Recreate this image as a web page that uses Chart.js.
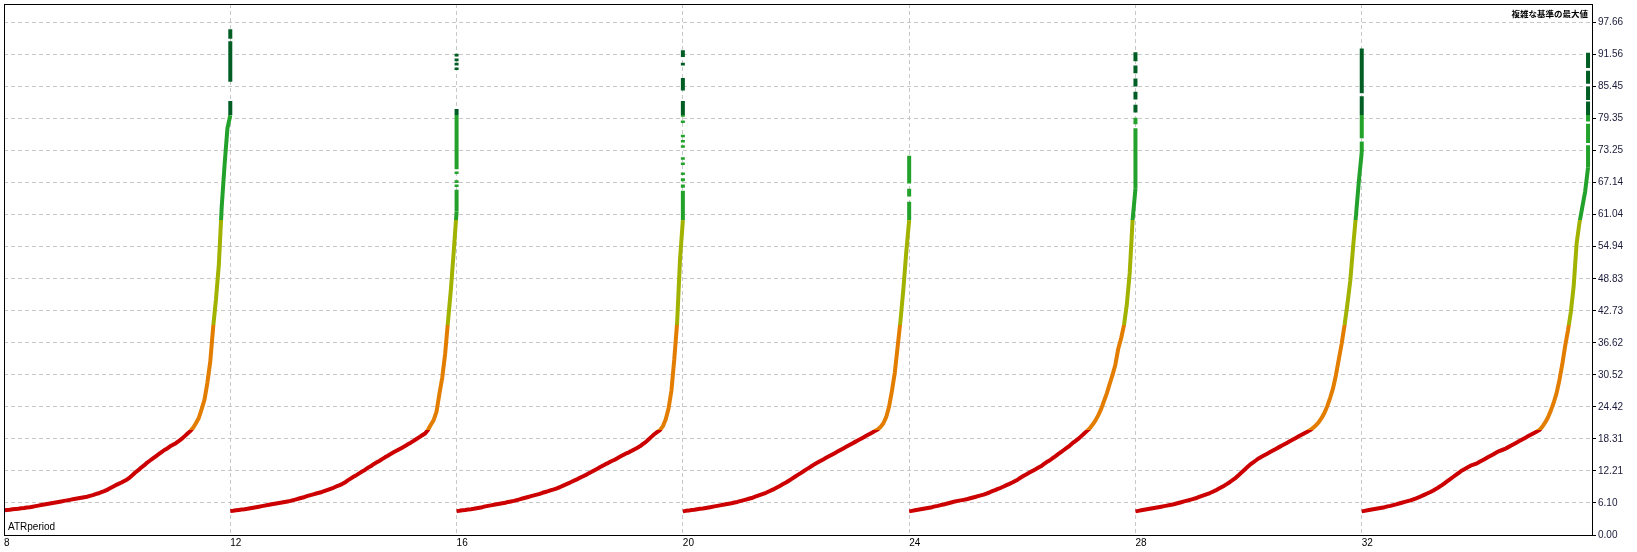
<!DOCTYPE html>
<html><head><meta charset="utf-8">
<script src="https://cdn.jsdelivr.net/npm/chart.js@4.4.0/dist/chart.umd.min.js"></script>
<style>html,body{margin:0;padding:0;background:#fff;overflow:hidden}</style>
</head><body>
<canvas id="c" width="1637" height="552"></canvas>
<script>
// ATRperiod groups: each group's passes, sorted ascending, spread over 4 units of the axis
const groupStarts = [8, 12, 16, 20, 24, 28, 32];
const atr8 = [4.7,4.75,4.8,4.9,4.95,5.0,5.1,5.15,5.25,5.3,
5.4,5.5,5.6,5.7,5.8,5.9,6.0,6.1,6.2,6.3,
6.4,6.5,6.6,6.7,6.8,6.9,7.0,7.1,7.2,7.3,
7.45,7.6,7.8,7.95,8.15,8.35,8.6,8.9,9.2,9.5,
9.75,10.0,10.3,10.6,11.0,11.5,12.0,12.4,12.9,13.3,
13.8,14.2,14.6,15.0,15.4,15.8,16.2,16.5,16.9,17.2,
17.5,17.9,18.3,18.8,19.3,19.8,20.4,21.3,22.3,24.0,
25.8,29.0,33.0,39.5,44.9,51.5,62.5,70.5,77.5,80.0];
const atr12 = [4.55,4.62,4.7,4.78,4.85,4.92,5.0,5.1,5.2,5.3,
5.4,5.5,5.6,5.7,5.8,5.9,6.0,6.1,6.2,6.3,
6.4,6.5,6.65,6.8,6.95,7.1,7.25,7.45,7.6,7.75,
7.9,8.05,8.2,8.4,8.6,8.8,9.0,9.25,9.45,9.7,
10.0,10.4,10.75,11.1,11.4,11.75,12.1,12.4,12.8,13.1,
13.5,13.8,14.1,14.45,14.8,15.1,15.45,15.75,16.05,16.35,
16.65,16.95,17.3,17.6,17.95,18.3,18.65,19.0,19.35,20.0,
21.0,21.9,23.5,26.9,30.0,34.5,40.7,46.7,54.0,61.6];
const atr16 = [4.55,4.62,4.7,4.77,4.85,4.92,5.0,5.1,5.2,5.3,
5.45,5.55,5.65,5.75,5.85,5.95,6.05,6.15,6.3,6.4,
6.5,6.65,6.8,6.95,7.1,7.25,7.4,7.55,7.7,7.85,
8.05,8.2,8.35,8.55,8.7,8.9,9.1,9.35,9.6,9.85,
10.1,10.35,10.6,10.9,11.15,11.4,11.7,12.0,12.3,12.6,
12.9,13.2,13.5,13.75,14.05,14.3,14.6,14.9,15.2,15.5,
15.7,16.0,16.3,16.6,16.9,17.3,17.7,18.2,18.7,19.2,
19.6,20.0,20.7,22.0,24.1,27.5,33.5,40.5,52.5,60.0];
const atr20 = [4.5,4.6,4.65,4.75,4.8,4.9,5.0,5.05,5.15,5.25,
5.35,5.45,5.55,5.65,5.75,5.85,5.95,6.05,6.2,6.3,
6.45,6.6,6.75,6.9,7.05,7.25,7.45,7.65,7.85,8.05,
8.3,8.55,8.8,9.1,9.4,9.7,10.0,10.35,10.7,11.05,
11.4,11.75,12.1,12.45,12.8,13.15,13.5,13.8,14.1,14.4,
14.7,15.0,15.3,15.6,15.9,16.2,16.5,16.8,17.1,17.4,
17.7,18.0,18.3,18.6,18.9,19.2,19.5,19.8,20.1,20.6,
21.3,22.5,24.5,27.5,31.0,36.0,41.0,47.0,54.0,60.0];
const atr24 = [4.5,4.6,4.7,4.8,4.9,5.0,5.1,5.2,5.3,5.45,
5.55,5.7,5.8,5.95,6.1,6.25,6.4,6.5,6.6,6.7,
6.8,6.95,7.1,7.25,7.4,7.55,7.7,7.9,8.1,8.35,
8.55,8.8,9.0,9.25,9.5,9.75,10.0,10.3,10.6,10.95,
11.3,11.6,11.9,12.2,12.5,12.8,13.1,13.5,13.9,14.2,
14.6,15.0,15.4,15.8,16.2,16.6,17.0,17.5,17.9,18.3,
18.8,19.3,19.8,20.3,21.0,21.8,22.8,24.0,25.5,27.0,
28.8,30.5,32.5,35.5,37.5,40.0,44.0,50.0,60.0,66.0];
const atr28 = [4.5,4.6,4.7,4.8,4.9,5.0,5.1,5.2,5.3,5.4,
5.5,5.6,5.7,5.8,5.95,6.1,6.25,6.4,6.55,6.7,
6.85,7.0,7.2,7.4,7.6,7.8,8.0,8.25,8.5,8.8,
9.1,9.4,9.75,10.1,10.5,10.9,11.4,11.9,12.4,12.9,
13.4,13.8,14.2,14.6,14.9,15.2,15.5,15.8,16.1,16.4,
16.7,17.0,17.3,17.6,17.9,18.2,18.5,18.8,19.1,19.4,
19.7,20.0,20.4,20.9,21.5,22.3,23.3,24.6,26.2,28.0,
30.5,33.5,36.5,40.0,44.0,48.5,55.0,61.0,67.5,73.0];
const atr32 = [4.5,4.6,4.7,4.8,4.9,5.0,5.1,5.2,5.3,5.45,
5.55,5.7,5.85,6.0,6.15,6.3,6.45,6.6,6.8,7.0,
7.2,7.45,7.7,7.95,8.2,8.5,8.8,9.15,9.5,9.9,
10.3,10.7,11.1,11.5,11.9,12.3,12.6,12.9,13.2,13.4,
13.6,13.9,14.2,14.5,14.8,15.1,15.4,15.7,16.0,16.2,
16.4,16.7,17.0,17.3,17.6,17.9,18.2,18.5,18.8,19.1,
19.4,19.7,20.0,20.6,21.4,22.4,23.7,25.2,27.0,29.5,
32.5,36.0,39.0,42.5,47.5,55.5,59.5,62.5,65.5,70.0];
const groupValues = [atr8, atr12, atr16, atr20, atr24, atr28, atr32];

// best passes of each group, stacked at the group's right end: [low, high] runs
const atr8Top  = [[80,82.7],[86.4,94.1],[94.6,96.4]];
const atr12Top = [[61.6,65.8],[66.3,66.8],[67.1,67.6],[68.8,69.3],[69.7,81.2],[88.6,89.1],[89.5,90.0],[90.3,90.8],[91.2,91.7]];
const atr16Top = [[60,65.6],[66.2,66.8],[67.4,68.0],[68.6,69.1],[70.5,71.0],[71.5,72.0],[73.8,74.3],[74.8,75.3],[75.8,76.3],[78.5,79.0],[79.7,82.7],[84.7,87.1],[89.5,90.0],[91.1,92.4]];
const atr20Top = [[60,63.5],[64.5,66.0],[67.0,72.3]];
const atr24Top = [[66,77.5],[78.3,79.5],[80.5,82.0],[83.0,84.5],[85.5,87.0],[88.0,89.5],[90.3,92.0]];
const atr28Top = [[73,75.0],[75.6,83.6],[84.2,92.7]];
const atr32Top = [[70,74.3],[74.7,78.4],[78.8,82.6],[82.9,85.5],[86.0,88.5],[89.0,91.9]];
const groupTops = [atr8Top, atr12Top, atr16Top, atr20Top, atr24Top, atr28Top, atr32Top];

const xTicks = [8, 12, 16, 20, 24, 28, 32];
const yTickLabels = ['0.00','6.10','12.21','18.31','24.42','30.52','36.62','42.73','48.83',
  '54.94','61.04','67.14','73.25','79.35','85.45','91.56','97.66'];
const bandEdges = [20, 40, 60, 80];
const bandColors = ['#cc0000', '#e27d00', '#a2b200', '#22a22a', '#005e24'];
const xAxisName = 'ATRperiod';
const criterionName = '複雑な基準の最大値';

const GROUP_SPAN = 4;
const X_MIN = 8, X_MAX = 36.07, Y_MAX = 101.2;

function bandGradient(chart) {
  const ys = chart.scales && chart.scales.y;
  if (!chart.chartArea || !ys) return bandColors[0];
  const y0 = ys.getPixelForValue(ys.min), y1 = ys.getPixelForValue(ys.max);
  const g = chart.ctx.createLinearGradient(0, y0, 0, y1);
  const span = ys.max - ys.min;
  let prev = 0;
  bandEdges.forEach((edge, k) => {
    const t = (edge - ys.min) / span;
    g.addColorStop(prev, bandColors[k]);
    g.addColorStop(t, bandColors[k]);
    prev = t;
  });
  g.addColorStop(prev, bandColors[bandColors.length - 1]);
  g.addColorStop(1, bandColors[bandColors.length - 1]);
  return g;
}

const lineStyle = {
  borderColor: c => bandGradient(c.chart),
  borderWidth: 4,
  borderCapStyle: 'butt',
  borderJoinStyle: 'bevel',
  pointRadius: 0,
  tension: 0,
  fill: false,
  spanGaps: false
};

const datasets = [];
groupValues.forEach((vals, g) => {
  const start = groupStarts[g], end = start + GROUP_SPAN;
  datasets.push(Object.assign({
    label: xAxisName + ' ' + start,
    data: vals.map((v, i) => ({ x: start + GROUP_SPAN * i / (vals.length - 1), y: v }))
  }, lineStyle));
  const pts = [];
  groupTops[g].forEach(([lo, hi]) => {
    pts.push({ x: end, y: lo }, { x: end, y: hi }, { x: end, y: null });
  });
  datasets.push(Object.assign({ label: xAxisName + ' ' + start + ' top', data: pts }, lineStyle));
});

const framePlugin = {
  id: 'frameAndLabels',
  afterDraw(chart) {
    const { ctx, chartArea: a } = chart;
    ctx.save();
    ctx.strokeStyle = '#000';
    ctx.lineWidth = 1;
    ctx.strokeRect(a.left + 0.5, a.top + 0.5, a.right - a.left, a.bottom - a.top);
    ctx.fillStyle = '#000';
    ctx.font = 'bold 8.5px "Noto Sans CJK JP"';
    ctx.textAlign = 'right';
    ctx.textBaseline = 'middle';
    ctx.fillText(criterionName, a.right - 4, a.top + 10);
    ctx.font = '10px "Liberation Sans"';
    ctx.textAlign = 'left';
    ctx.textBaseline = 'alphabetic';
    ctx.fillText(xAxisName, a.left + 4, a.bottom - 5);
    ctx.restore();
  }
};

new Chart(document.getElementById('c'), {
  type: 'line',
  data: { datasets },
  plugins: [framePlugin],
  options: {
    responsive: false,
    animation: false,
    devicePixelRatio: 1,
    layout: { padding: { left: 4, top: 4, right: 0, bottom: 0 } },
    plugins: { legend: { display: false }, tooltip: { enabled: false }, title: { display: false } },
    scales: {
      x: {
        type: 'linear', min: X_MIN, max: X_MAX, position: 'bottom',
        afterBuildTicks: s => { s.ticks = xTicks.map(v => ({ value: v })); },
        afterFit: s => { s.height = 17; s.paddingLeft = 0; s.paddingRight = 0; },
        ticks: { align: 'start', maxRotation: 0, minRotation: 0, autoSkip: false, padding: 2,
          color: '#000', font: { family: 'Liberation Sans', size: 10 }, callback: v => String(v) },
        grid: { color: '#c8c8c8', lineWidth: 1, drawTicks: false },
        border: { color: '#000', width: 1, dash: [4, 3] }
      },
      y: {
        type: 'linear', min: 0, max: Y_MAX, position: 'right',
        afterBuildTicks: s => { s.ticks = yTickLabels.map(t => ({ value: parseFloat(t) })); },
        afterFit: s => { s.width = 45; s.paddingTop = 0; s.paddingBottom = 0; },
        ticks: { autoSkip: false, padding: 2, color: '#1a1a3a',
          font: { family: 'Liberation Sans', size: 10 }, callback: (v, i) => yTickLabels[i] },
        grid: { color: '#c8c8c8', lineWidth: 1, tickColor: '#000', tickLength: 4, tickBorderDash: [] },
        border: { color: '#000', width: 1, dash: [4, 3] }
      }
    }
  }
});
</script>
</body></html>
